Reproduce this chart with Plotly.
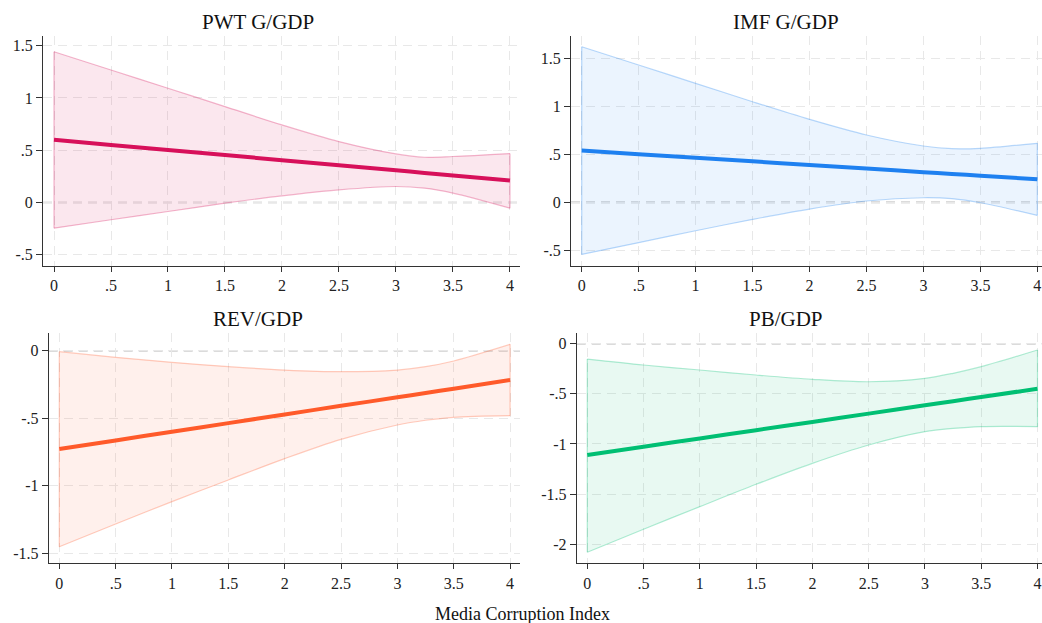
import plotly.graph_objects as go

# ---------------- data ----------------
x_vals = [0, 0.5, 1, 1.5, 2, 2.5, 3, 3.25, 3.5, 4]

titles = ["PWT G/GDP", "IMF G/GDP", "REV/GDP", "PB/GDP"]

pwt_mean = [0.60, 0.551, 0.502, 0.454, 0.405, 0.356, 0.308, 0.283, 0.259, 0.21]
pwt_upper = [1.442, 1.267, 1.093, 0.917, 0.742, 0.583, 0.465, 0.433, 0.44, 0.468]
pwt_lower = [-0.245, -0.165, -0.086, -0.006, 0.064, 0.121, 0.153, 0.137, 0.09, -0.054]

imf_mean = [0.54, 0.502, 0.465, 0.428, 0.39, 0.353, 0.315, 0.296, 0.278, 0.24]
imf_upper = [1.624, 1.433, 1.242, 1.05, 0.866, 0.703, 0.588, 0.56, 0.564, 0.616]
imf_lower = [-0.543, -0.421, -0.296, -0.178, -0.07, 0.014, 0.048, 0.038, -0.004, -0.136]

rev_mean = [-0.728, -0.664, -0.600, -0.536, -0.472, -0.408, -0.345, -0.313, -0.281, -0.217]
rev_upper = [-0.007, -0.049, -0.086, -0.118, -0.143, -0.155, -0.143, -0.118, -0.076, 0.047]
rev_lower = [-1.451, -1.283, -1.117, -0.957, -0.799, -0.656, -0.55, -0.515, -0.493, -0.481]

pb_mean = [-1.11, -1.027, -0.945, -0.862, -0.780, -0.697, -0.614, -0.573, -0.532, -0.449]
pb_upper = [-0.153, -0.212, -0.262, -0.312, -0.355, -0.379, -0.345, -0.295, -0.229, -0.063]
pb_lower = [-2.08, -1.85, -1.625, -1.402, -1.193, -1.01, -0.877, -0.845, -0.827, -0.827]

x_tickvals = [0, 0.5, 1, 1.5, 2, 2.5, 3, 3.5, 4]
x_ticktext = ["0", ".5", "1", "1.5", "2", "2.5", "3", "3.5", "4"]
y_ticks_top = [-0.5, 0, 0.5, 1, 1.5]
y_text_top = ["-.5", "0", ".5", "1", "1.5"]
y_ticks_rev = [-1.5, -1, -0.5, 0]
y_text_rev = ["-1.5", "-1", "-.5", "0"]
y_ticks_pb = [-2, -1.5, -1, -0.5, 0]
y_text_pb = ["-2", "-1.5", "-1", "-.5", "0"]

x_label = "Media Corruption Index"

# ---------------- style ----------------
W, H = 1042, 623
FONT = "Liberation Serif, Times New Roman, serif"


def fx(px):
    return px / W


def fy(py):
    return 1 - py / H


panels = [
    dict(mean=pwt_mean, up=pwt_upper, lo=pwt_lower, rgb=(215, 16, 90), a=0.10,
         px=(43, 520), py=(35.7, 265.7), xr=(-0.0965, 4.088), yr=(-0.604, 1.595),
         yt=y_ticks_top, ytt=y_text_top, title_pos=(258, 22)),
    dict(mean=imf_mean, up=imf_upper, lo=imf_lower, rgb=(30, 128, 240), a=0.09,
         px=(571, 1042), py=(35.7, 265.7), xr=(-0.094, 4.041), yr=(-0.661, 1.739),
         yt=y_ticks_top, ytt=y_text_top, title_pos=(786, 22)),
    dict(mean=rev_mean, up=rev_upper, lo=rev_lower, rgb=(255, 90, 42), a=0.09,
         px=(48.7, 520), py=(333.3, 563.3), xr=(-0.094, 4.088), yr=(-1.574, 0.129),
         yt=y_ticks_rev, ytt=y_text_rev, title_pos=(258, 319)),
    dict(mean=pb_mean, up=pb_upper, lo=pb_lower, rgb=(0, 191, 115), a=0.09,
         px=(576.7, 1042), py=(333.3, 563.3), xr=(-0.094, 4.04), yr=(-2.19, 0.104),
         yt=y_ticks_pb, ytt=y_text_pb, title_pos=(786, 319)),
]

fig = go.Figure()
layout = dict(
    width=W, height=H, margin=dict(l=0, r=0, t=0, b=0),
    paper_bgcolor="white", plot_bgcolor="white", showlegend=False,
    font=dict(family=FONT, size=16, color="#222"),
)
shapes = []
annotations = []

for i, p in enumerate(panels):
    n = i + 1
    xa = "x" if n == 1 else f"x{n}"
    ya = "y" if n == 1 else f"y{n}"
    xkey = "xaxis" if n == 1 else f"xaxis{n}"
    ykey = "yaxis" if n == 1 else f"yaxis{n}"
    r, g, b = p["rgb"]
    col = f"rgb({r},{g},{b})"
    fill = f"rgba({r},{g},{b},{p['a']})"
    edge = f"rgba({r},{g},{b},0.30)"

    fig.add_trace(go.Scatter(x=x_vals, y=p["lo"], mode="lines", xaxis=xa, yaxis=ya,
                             line=dict(color=edge, width=1.2, shape="spline", smoothing=0.9),
                             hoverinfo="skip"))
    fig.add_trace(go.Scatter(x=x_vals, y=p["up"], mode="lines", xaxis=xa, yaxis=ya,
                             fill="tonexty", fillcolor=fill,
                             line=dict(color=edge, width=1.2, shape="spline", smoothing=0.9),
                             hoverinfo="skip"))
    # band vertical edges
    for j in (0, len(x_vals) - 1):
        shapes.append(dict(type="line", xref=xa, yref=ya, x0=x_vals[j], x1=x_vals[j],
                           y0=p["lo"][j], y1=p["up"][j], line=dict(color=edge, width=1.2),
                           layer="above"))
    fig.add_trace(go.Scatter(x=x_vals, y=p["mean"], mode="lines", xaxis=xa, yaxis=ya,
                             line=dict(color=col, width=4, shape="spline", smoothing=0.5)))

    # zero reference line
    shapes.append(dict(type="line", xref=f"{xa} domain", yref=ya, x0=0, x1=1, y0=0, y1=0,
                       line=dict(color="#B8B8B8", width=1.6, dash="9px,6px"), layer="below"))

    layout[xkey] = dict(
        domain=[fx(p["px"][0]), min(1.0, fx(p["px"][1]))], anchor=ya, range=list(p["xr"]),
        tickvals=x_tickvals, ticktext=x_ticktext, ticks="outside", ticklen=5,
        tickcolor="#333", showline=True, linecolor="#333", linewidth=1,
        showgrid=True, gridcolor="#E8E8E8", griddash="9px,6px", gridwidth=1,
        zeroline=False, ticklabeloverflow="allow",
        tickfont=dict(family=FONT, size=16, color="#222"),
    )
    layout[ykey] = dict(
        domain=[fy(p["py"][1]), fy(p["py"][0])], anchor=xa, range=list(p["yr"]),
        tickvals=p["yt"], ticktext=p["ytt"], ticks="outside", ticklen=6,
        tickcolor="#333", showline=True, linecolor="#333", linewidth=1,
        showgrid=True, gridcolor="#E8E8E8", griddash="9px,6px", gridwidth=1,
        zeroline=False, tickfont=dict(family=FONT, size=16, color="#222"),
    )
    annotations.append(dict(text=titles[i], xref="paper", yref="paper",
                            x=fx(p["title_pos"][0]), y=fy(p["title_pos"][1]),
                            xanchor="center", yanchor="middle", showarrow=False,
                            font=dict(family=FONT, size=21, color="#111")))

annotations.append(dict(text=x_label, xref="paper", yref="paper", x=fx(522), y=fy(614),
                        xanchor="center", yanchor="middle", showarrow=False,
                        font=dict(family=FONT, size=18, color="#111")))

layout["shapes"] = shapes
layout["annotations"] = annotations
fig.update_layout(**layout)
fig.write_html(
    "out.html",
    config={"displayModeBar": False},
    post_script="document.body.style.margin='0';document.body.style.overflow='hidden';",
)
